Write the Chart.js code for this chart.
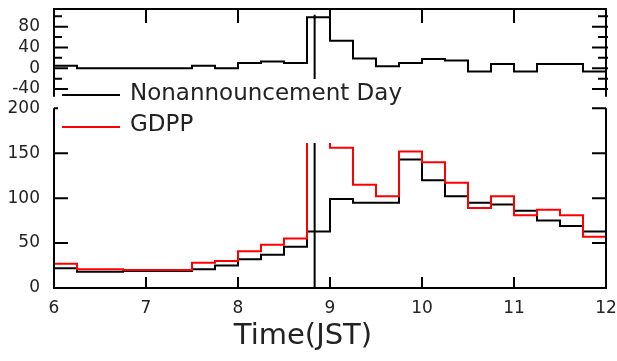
<!DOCTYPE html>
<html>
<head>
<meta charset="utf-8">
<script src="https://cdn.jsdelivr.net/npm/chart.js@4/dist/chart.umd.min.js"></script>
<style>
    html, body { margin: 0; padding: 0; background: #fff; }
</style>
</head>
<body>
<canvas id="timeChart" width="617" height="361"></canvas>
<script>
// 15 minute bins, last edge closes the final bin
const binEdges = [6, 6.25, 6.5, 6.75, 7, 7.25, 7.5, 7.75, 8, 8.25, 8.5, 8.75,
    9, 9.25, 9.5, 9.75, 10, 10.25, 10.5, 10.75, 11, 11.25, 11.5, 11.75, 12];
const nonannouncementDay = [22, 18, 18, 19, 19, 19, 21, 25, 32, 37, 46, 63,
    99, 95, 95, 143, 120, 102, 95, 93, 86, 75, 69, 63];
const gdpp = [27, 21, 21, 20, 20, 20, 28, 30, 41, 48, 55, 163,
    156, 115, 102, 152, 140, 117, 89, 102, 81, 87, 81, 57];
const difference = [5, 0, 0, 0, 0, 0, 5, 0, 10, 13, 10, 98,
    53, 19, 4, 10, 18, 15, -6, 8, -6, 8, 8, -6];
const announceTime = 8.833;

const xTicks = [6, 7, 8, 9, 10, 11, 12];
const diffTicks = [-40, 0, 40, 80];
const diffMinorTicks = [-20, 20, 60, 100];
const countTicks = [0, 50, 100, 150, 200];

function steps(values) {
    return binEdges.map(function (x, i) {
        return { x: x, y: values[Math.min(i, values.length - 1)] };
    });
}

const FONT = "'DejaVu Sans', Verdana, sans-serif";

// white legend box on top of the data, then frame and inward ticks
const framePlugin = {
    id: 'frame',
    afterDatasetsDraw: function (chart) {
        const ctx = chart.ctx;
        ctx.save();
        ctx.fillStyle = '#fff';
        ctx.fillRect(57, 79, 353, 64);
        ctx.lineWidth = 2;
        ctx.strokeStyle = '#000';
        ctx.beginPath(); ctx.moveTo(62, 95); ctx.lineTo(120, 95); ctx.stroke();
        ctx.strokeStyle = '#ff0000';
        ctx.beginPath(); ctx.moveTo(62, 127); ctx.lineTo(120, 127); ctx.stroke();
        ctx.fillStyle = '#222';
        ctx.font = '23px ' + FONT;
        ctx.textBaseline = 'middle';
        ctx.fillText('Nonannouncement Day', 130, 94);
        ctx.fillText('GDPP', 130, 125);
        ctx.restore();
    },
    afterDraw: function (chart) {
        const ctx = chart.ctx;
        const x = chart.scales.x, yt = chart.scales.yTop, yb = chart.scales.yBot;
        const L = x.getPixelForValue(6), R = x.getPixelForValue(12);
        ctx.save();
        ctx.strokeStyle = '#000';
        ctx.lineWidth = 2;
        ctx.beginPath();
        // top panel frame
        const tTop = yt.getPixelForValue(114), tBot = yt.getPixelForValue(-55);
        ctx.moveTo(L, tBot); ctx.lineTo(L, tTop); ctx.lineTo(R, tTop); ctx.lineTo(R, tBot);
        xTicks.slice(1, -1).forEach(function (v) {
            const px = x.getPixelForValue(v);
            ctx.moveTo(px, tTop); ctx.lineTo(px, tTop + 14);
        });
        diffTicks.forEach(function (v) {
            const py = yt.getPixelForValue(v);
            ctx.moveTo(L, py); ctx.lineTo(L + 14, py);
            ctx.moveTo(R + 2, py); ctx.lineTo(R - 14, py);
        });
        diffMinorTicks.forEach(function (v) {
            const py = yt.getPixelForValue(v);
            ctx.moveTo(L, py); ctx.lineTo(L + 8, py);
            ctx.moveTo(R + 2, py); ctx.lineTo(R - 8, py);
        });
        // bottom panel frame
        const bTop = yb.getPixelForValue(200), bBot = yb.getPixelForValue(0);
        ctx.moveTo(L, bTop); ctx.lineTo(L, bBot); ctx.lineTo(R, bBot); ctx.lineTo(R, bTop);
        xTicks.slice(1, -1).forEach(function (v) {
            const px = x.getPixelForValue(v);
            ctx.moveTo(px, bBot); ctx.lineTo(px, bBot - 11);
        });
        countTicks.forEach(function (v) {
            const py = yb.getPixelForValue(v);
            ctx.moveTo(L, py); ctx.lineTo(L + (v === 200 ? 4 : 14), py);
            ctx.moveTo(R, py); ctx.lineTo(R - 14, py);
        });
        ctx.stroke();
        ctx.fillStyle = '#222';
        ctx.font = '29px ' + FONT;
        ctx.textAlign = 'center';
        ctx.textBaseline = 'middle';
        ctx.fillText('Time(JST)', 303, 336);
        ctx.restore();
    }
};

function fixedTicks(list) {
    return function (scale) {
        scale.ticks = list.map(function (v) { return { value: v }; });
    };
}

const tickFont = { family: FONT, size: 17 };

new Chart(document.getElementById('timeChart'), {
    type: 'line',
    data: {
        datasets: [{
            label: 'difference',
            data: steps(difference),
            yAxisID: 'yTop',
            borderColor: '#000',
            borderWidth: 2,
            stepped: 'before',
            pointRadius: 0,
            fill: false
        }, {
            label: 'marker top',
            data: [{ x: announceTime, y: 103 }, { x: announceTime, y: -77 }],
            yAxisID: 'yTop',
            borderColor: '#000',
            borderWidth: 2,
            pointRadius: 0
        }, {
            label: 'GDPP',
            data: steps(gdpp),
            yAxisID: 'yBot',
            borderColor: '#ff0000',
            borderWidth: 2,
            stepped: 'before',
            pointRadius: 0,
            fill: false
        }, {
            label: 'Nonannouncement Day',
            data: steps(nonannouncementDay),
            yAxisID: 'yBot',
            borderColor: '#000',
            borderWidth: 2,
            stepped: 'before',
            pointRadius: 0,
            fill: false
        }, {
            label: 'marker bottom',
            data: [{ x: announceTime, y: 0 }, { x: announceTime, y: 200 }],
            yAxisID: 'yBot',
            borderColor: '#000',
            borderWidth: 2,
            pointRadius: 0
        }]
    },
    options: {
        responsive: false,
        animation: false,
        devicePixelRatio: 1,
        layout: { padding: { top: 9, right: 11, left: 0, bottom: 0 } },
        plugins: { legend: { display: false }, tooltip: { enabled: false } },
        scales: {
            x: {
                type: 'linear',
                min: 6,
                max: 12,
                afterBuildTicks: fixedTicks(xTicks),
                ticks: { font: tickFont, color: '#222', padding: 2, maxRotation: 0, autoSkip: false },
                grid: { display: false },
                border: { display: false },
                afterFit: function (s) { s.height = 73; s.paddingLeft = 0; s.paddingRight = 0; }
            },
            // stacked panels are placed bottom-up in definition order
            yBot: {
                type: 'linear',
                position: 'left',
                stack: 'panels',
                stackWeight: 179.9,
                min: 0,
                max: 200,
                afterBuildTicks: fixedTicks(countTicks),
                ticks: { font: tickFont, color: '#222', padding: 6, autoSkip: false },
                grid: { display: false },
                border: { display: false },
                afterFit: function (s) { s.width = 54; s.paddingTop = 0; s.paddingBottom = 0; }
            },
            yTop: {
                type: 'linear',
                position: 'left',
                stack: 'panels',
                stackWeight: 99.4,
                min: -77,
                max: 114,
                afterBuildTicks: fixedTicks(diffTicks),
                ticks: { font: tickFont, color: '#222', padding: 6, autoSkip: false },
                grid: { display: false },
                border: { display: false },
                afterFit: function (s) { s.width = 54; s.paddingTop = 0; s.paddingBottom = 0; }
            }
        }
    },
    plugins: [framePlugin]
});
</script>
</body>
</html>
